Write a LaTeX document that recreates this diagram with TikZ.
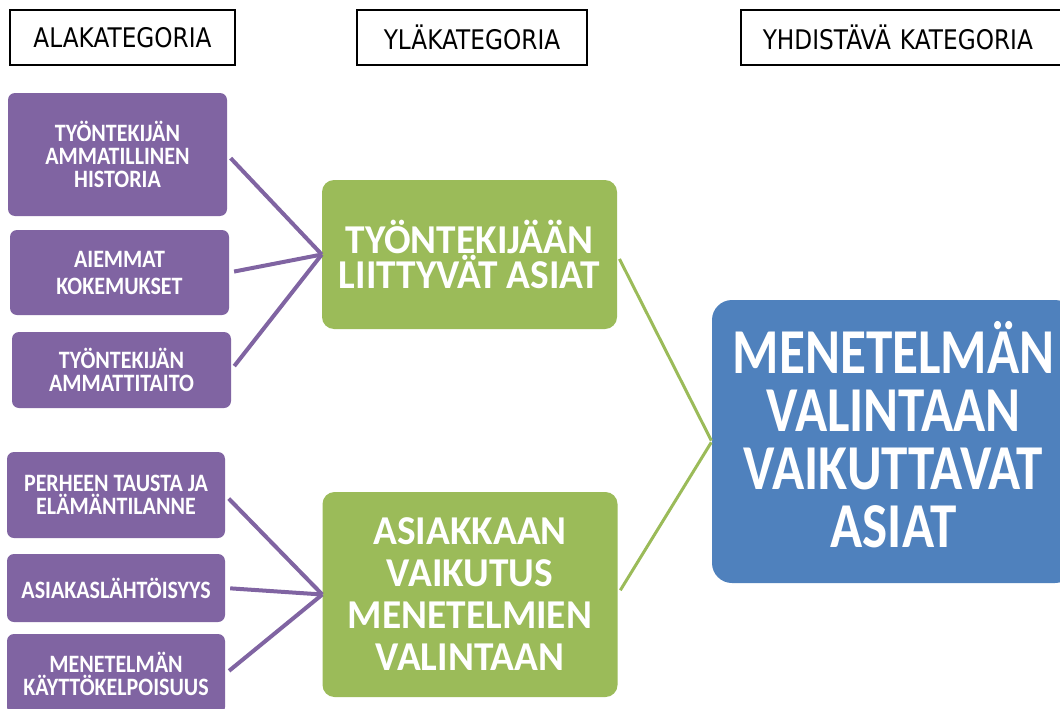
\documentclass[tikz,border=0pt]{standalone}
\usepackage{fontspec}
\setmainfont{Carlito}
\newfontfamily\hdrfont[FakeStretch=0.86]{DejaVu Sans}
\newfontfamily\alafont[FakeStretch=0.88]{Carlito}
\newfontfamily\ylafont[FakeStretch=0.96]{Carlito}
\newfontfamily\yhdfont[FakeStretch=0.83]{Carlito}
\usepackage{tikz}

\definecolor{alapurple}{HTML}{8064A2}
\definecolor{ylagreen}{HTML}{9BBB59}
\definecolor{yhdblue}{HTML}{4F81BD}

\begin{document}
\begin{tikzpicture}[x=1pt,y=-1pt,
    hdrbox/.style={draw=black, line width=1.6pt, fill=white, inner sep=0pt, minimum height=55, font=\hdrfont\fontsize{27}{30}\selectfont},
    alabox/.style={fill=alapurple, rounded corners=7pt, inner sep=0pt, minimum width=219, text=white, align=center, font=\alafont\bfseries\fontsize{25}{23}\selectfont},
    ylabox/.style={fill=ylagreen, rounded corners=12pt, inner sep=0pt, minimum width=295, text=white, align=center},
    yhdbox/.style={fill=yhdblue, rounded corners=20pt, inner sep=0pt, text=white, align=center},
    alaline/.style={draw=alapurple, line width=4pt, shorten <=5},
    ylaline/.style={draw=ylagreen, line width=3pt, shorten <=5, shorten >=1}]
    \useasboundingbox (0,0) rectangle (1060,709);
    \fill[white] (0,0) rectangle (1060,709);
    \node[hdrbox, minimum width=225] (h1) at (122.5,37.5) {ALAKATEGORIA};
    \node[hdrbox, minimum width=230] (h2) at (472,37.5) {YLÄKATEGORIA};
    \node[hdrbox, minimum width=340, anchor=west, text width=296, inner xsep=22, align=left] (h3) at (740,37.5) {YHDISTÄVÄ KATEGORIA};
    \node[alabox, minimum height=123] (a1) at (117.5,154.5) {TYÖNTEKIJÄN\\AMMATILLINEN\\HISTORIA};
    \node[alabox, minimum height=85, font=\alafont\bfseries\fontsize{25}{27}\selectfont] (a2) at (119.5,272.5) {AIEMMAT\\KOKEMUKSET};
    \node[alabox, minimum height=76] (a3) at (121.5,370) {TYÖNTEKIJÄN\\AMMATTITAITO};
    \node[alabox, minimum width=218, minimum height=86] (a4) at (116,495) {PERHEEN TAUSTA JA\\ELÄMÄNTILANNE};
    \node[alabox, minimum width=218, minimum height=68] (a5) at (116,588) {ASIAKASLÄHTÖISYYS};
    \node[alabox, minimum width=218, minimum height=80] (a6) at (116,674) {MENETELMÄN\\KÄYTTÖKELPOISUUS};
    \node[ylabox, minimum height=149, font=\ylafont\bfseries\fontsize{41}{33}\selectfont] (y1) at (469.5,254.5) {TYÖNTEKIJÄÄN\\LIITTYVÄT ASIAT};
    \node[ylabox, minimum height=205, font=\ylafont\bfseries\fontsize{41}{42}\selectfont] (y2) at (470,594.5) {ASIAKKAAN\\VAIKUTUS\\MENETELMIEN\\VALINTAAN};
    \node[yhdbox, minimum width=363, minimum height=283, text depth=14, font=\yhdfont\bfseries\fontsize{64}{58}\selectfont] (yh) at (893.5,441.5) {MENETELMÄN\\VALINTAAN\\VAIKUTTAVAT\\ASIAT};
    \foreach \a in {a1,a2,a3} \draw[alaline] (\a.east) -- (y1.west);
    \foreach \a in {a4,a5,a6} \draw[alaline] (\a.east) -- (y2.west);
    \draw[ylaline] (y1.east) -- (yh.west);
    \draw[ylaline] (y2.east) -- (yh.west);
\end{tikzpicture}
\end{document}
